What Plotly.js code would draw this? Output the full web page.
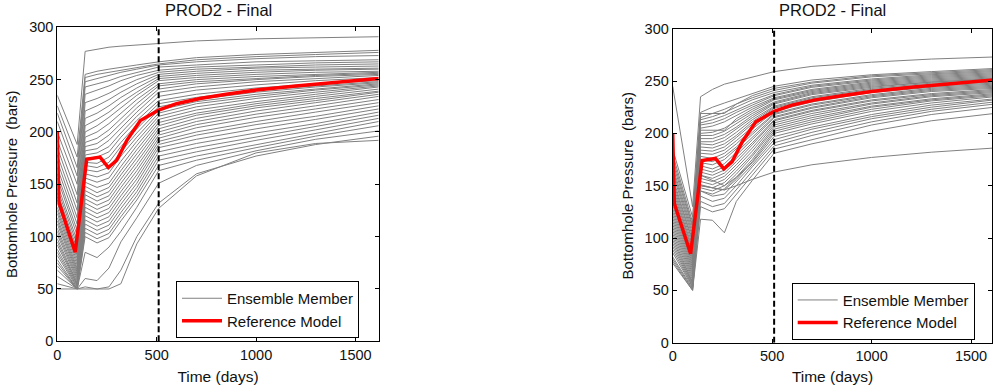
<!DOCTYPE html>
<html><head><meta charset="utf-8">
<script src="https://cdn.plot.ly/plotly-3.0.1.min.js"></script>
<style>html,body{margin:0;padding:0;background:#fff;} #chart{width:994px;height:385px;}</style>
</head><body><div id="chart"></div>
<script>
const panelTitles = ['PROD2 - Final', 'PROD2 - Final'];
const xTitle = 'Time (days)';
const yTitle = 'Bottomhole Pressure \u00a0(bars)';
const legendLabels = ['Ensemble Member', 'Reference Model'];
const xTicks = [0, 500, 1000, 1500];
const yTicks = [0, 50, 100, 150, 200, 250, 300];
const splitDay = 510;
const memberDays = [0, 100, 140, 200, 260, 320, 400, 510, 700, 1000, 1300, 1617];
const referenceDays = [0, 8, 90, 148, 215, 257, 299, 350, 418, 510, 600, 718, 850, 1000, 1200, 1421, 1617];
const referencePressure = [200, 133, 85, 174, 176, 166, 173, 192, 211, 221, 227, 232, 236, 240, 244, 248, 251];

const ensembleLeft = [
  [235, 188, 277, 279, 281, 282, 283, 285, 287, 289, 290, 291],
  [225, 176, 255, 258, 260, 262, 264, 267, 271, 274, 276, 278],
  [218, 166, 252, 255, 257, 259, 262, 265, 269, 272, 274, 276],
  [210, 158, 248, 251, 254, 257, 260, 264, 267, 270, 272, 273],
  [200, 150, 243, 246, 249, 253, 257, 262, 264, 267, 268, 269],
  [192, 140, 236, 240, 244, 249, 254, 259, 262, 264, 266, 267],
  [185, 132, 228, 232, 237, 243, 250, 257, 260, 262, 264, 265],
  [178, 125, 220, 225, 231, 238, 246, 255, 258, 261, 262, 263],
  [172, 118, 213, 218, 225, 233, 242, 253, 256, 259, 260, 261],
  [166, 112, 206, 212, 219, 228, 238, 251, 254, 257, 259, 260],
  [160, 106, 200, 206, 214, 223, 235, 249, 252, 255, 257, 258],
  [156, 101, 195, 200, 208, 218, 231, 246, 250, 253, 255, 257],
  [150, 96, 190, 194, 202, 213, 227, 244, 248, 251, 254, 256],
  [146, 92, 186, 189, 197, 208, 223, 241, 246, 250, 253, 255],
  [142, 88, 182, 184, 192, 204, 219, 238, 243, 248, 251, 254],
  [138, 85, 178, 180, 186, 199, 215, 234, 240, 245, 249, 252],
  [135, 82, 175, 176, 181, 195, 211, 230, 236, 242, 246, 249],
  [132, 79, 171, 170, 176, 190, 207, 227, 233, 240, 244, 248],
  [128, 76, 168, 166, 171, 186, 203, 224, 231, 238, 243, 247],
  [125, 73, 164, 162, 166, 181, 199, 221, 229, 236, 241, 246],
  [122, 70, 160, 157, 161, 177, 195, 218, 227, 234, 240, 245],
  [118, 68, 156, 152, 156, 172, 191, 215, 224, 232, 238, 244],
  [115, 66, 152, 147, 151, 167, 187, 212, 221, 229, 236, 243],
  [112, 64, 148, 142, 147, 163, 183, 209, 218, 227, 234, 241],
  [108, 62, 144, 138, 143, 159, 179, 206, 216, 225, 232, 239],
  [105, 60, 140, 134, 139, 155, 175, 203, 213, 223, 230, 238],
  [102, 58, 136, 130, 135, 151, 171, 200, 210, 220, 228, 236],
  [98, 56, 132, 126, 131, 147, 167, 197, 207, 217, 225, 234],
  [95, 55, 128, 122, 127, 143, 163, 194, 204, 214, 222, 231],
  [92, 54, 124, 118, 123, 139, 159, 191, 200, 210, 219, 228],
  [88, 53, 120, 114, 119, 135, 155, 188, 197, 207, 215, 225],
  [85, 52, 116, 110, 115, 131, 151, 185, 193, 203, 212, 222],
  [82, 51, 112, 106, 111, 127, 147, 181, 189, 199, 208, 219],
  [78, 50, 108, 102, 107, 123, 143, 177, 185, 195, 205, 216],
  [75, 50, 104, 98, 103, 119, 139, 173, 181, 192, 202, 213],
  [72, 50, 100, 94, 99, 115, 135, 168, 177, 188, 199, 210],
  [68, 50, 85, 80, 90, 105, 128, 163, 173, 185, 196, 206],
  [62, 50, 60, 58, 70, 95, 118, 151, 168, 182, 193, 201],
  [55, 50, 52, 50, 52, 68, 100, 132, 160, 177, 188, 196],
  [50, 50, 50, 50, 50, 55, 93, 127, 158, 180, 189, 192]
];

const ensembleRight = [
  [245, 130, 235, 242, 247, 250, 254, 259, 264, 268, 271, 273],
  [185, 120, 220, 225, 229, 233, 238, 245, 251, 256, 259, 262],
  [180, 115, 219, 219, 219, 228, 236, 243, 249, 255, 258, 261],
  [176, 112, 215, 219, 223, 228, 234, 241, 248, 254, 257, 260],
  [172, 110, 213, 216, 220, 225, 232, 239, 246, 252, 256, 259],
  [168, 107, 210, 213, 217, 222, 229, 237, 245, 251, 255, 258],
  [165, 104, 208, 210, 214, 220, 227, 236, 244, 250, 254, 257],
  [162, 101, 205, 207, 211, 217, 225, 234, 242, 249, 253, 256],
  [158, 98, 203, 203, 203, 214, 223, 233, 241, 248, 252, 255],
  [155, 96, 200, 201, 205, 212, 221, 232, 240, 247, 251, 254],
  [152, 93, 198, 198, 202, 209, 219, 230, 239, 246, 250, 253],
  [149, 90, 195, 195, 199, 206, 217, 229, 238, 245, 249, 252],
  [146, 88, 192, 192, 196, 204, 215, 228, 237, 244, 249, 252],
  [143, 86, 190, 189, 193, 201, 213, 226, 235, 243, 248, 251],
  [140, 84, 187, 186, 190, 198, 211, 225, 234, 242, 247, 250],
  [137, 82, 184, 183, 187, 196, 209, 224, 233, 241, 246, 249],
  [134, 80, 181, 180, 184, 193, 206, 222, 231, 240, 245, 248],
  [131, 78, 178, 176, 181, 190, 204, 221, 230, 239, 244, 247],
  [128, 76, 175, 173, 178, 187, 201, 219, 228, 237, 243, 246],
  [125, 74, 172, 170, 175, 185, 199, 218, 227, 236, 242, 245],
  [122, 72, 169, 166, 171, 182, 196, 216, 225, 235, 241, 244],
  [119, 70, 166, 163, 168, 179, 194, 215, 224, 234, 240, 243],
  [116, 68, 163, 160, 165, 176, 191, 213, 222, 232, 238, 242],
  [113, 66, 160, 157, 162, 173, 189, 212, 221, 231, 237, 241],
  [110, 64, 157, 154, 159, 170, 186, 210, 219, 229, 236, 240],
  [107, 62, 154, 151, 156, 167, 183, 208, 217, 228, 235, 239],
  [104, 60, 151, 148, 153, 164, 180, 206, 215, 226, 233, 238],
  [101, 58, 148, 145, 150, 161, 178, 204, 213, 225, 232, 237],
  [98, 57, 145, 142, 147, 158, 175, 202, 211, 223, 231, 236],
  [95, 56, 150, 148, 146, 156, 173, 200, 209, 221, 229, 235],
  [92, 55, 160, 155, 150, 158, 172, 197, 206, 218, 227, 233],
  [89, 54, 145, 140, 142, 154, 170, 194, 204, 216, 225, 232],
  [86, 53, 140, 135, 138, 150, 168, 191, 201, 214, 223, 230],
  [82, 52, 135, 130, 133, 146, 164, 188, 198, 211, 221, 228],
  [80, 51, 130, 125, 128, 142, 160, 185, 194, 208, 218, 225],
  [78, 50, 118, 117, 105, 135, 155, 181, 190, 202, 212, 219],
  [76, 50, 150, 148, 146, 150, 156, 163, 170, 177, 182, 186]
];

const GRAY = '#808080';
const RED = '#ff0000';
const FONT = 'Liberation Sans, Arial, sans-serif';
const TXT = '#111';

function panelTraces(members, xa, ya, legendId) {
  const traces = [];
  members.forEach((vals, i) => {
    traces.push({
      x: memberDays, y: vals, xaxis: xa, yaxis: ya, type: 'scatter', mode: 'lines',
      line: {color: GRAY, width: 1}, name: legendLabels[0], legend: legendId,
      legendgroup: legendId + 'ens', showlegend: i === 0, hoverinfo: 'skip'
    });
  });
  traces.push({
    x: referenceDays, y: referencePressure, xaxis: xa, yaxis: ya, type: 'scatter', mode: 'lines',
    line: {color: RED, width: 3.5}, name: legendLabels[1], legend: legendId, showlegend: true, hoverinfo: 'skip'
  });
  traces.push({
    x: [splitDay, splitDay], y: [yTicks[0], yTicks[yTicks.length - 1]], xaxis: xa, yaxis: ya,
    type: 'scatter', mode: 'lines', line: {color: '#000', width: 2, dash: '6px,3px'},
    showlegend: false, hoverinfo: 'skip'
  });
  return traces;
}

const data = panelTraces(ensembleLeft, 'x', 'y', 'legend').concat(panelTraces(ensembleRight, 'x2', 'y2', 'legend2'));

function xAxis(domain, range, anchor) {
  return {
    domain: domain, range: range, anchor: anchor, tickvals: xTicks, ticks: 'inside', ticklen: 4,
    tickcolor: '#000', showline: true, linecolor: '#000', linewidth: 1, mirror: 'ticks',
    showgrid: false, zeroline: false, tickfont: {family: FONT, size: 14.5, color: TXT},
    title: {text: xTitle, font: {family: FONT, size: 15.5, color: TXT}, standoff: 9}
  };
}
function yAxis(domain, anchor) {
  return {
    domain: domain, range: [0, 300], anchor: anchor, tickvals: yTicks, ticks: 'inside', ticklen: 4,
    tickcolor: '#000', showline: true, linecolor: '#000', linewidth: 1, mirror: 'ticks',
    showgrid: false, zeroline: false, tickfont: {family: FONT, size: 14.5, color: TXT},
    title: {text: yTitle, font: {family: FONT, size: 15, color: TXT}, standoff: 7}
  };
}
const legendStyle = {
  bgcolor: '#fff', bordercolor: '#000', borderwidth: 1, font: {family: FONT, size: 15, color: TXT},
  xanchor: 'left', yanchor: 'top', tracegroupgap: 0, itemwidth: 40, traceorder: 'normal'
};

const xdL = [57.3 / 994, 378.7 / 994];
const xdR = [672.7 / 994, 992.3 / 994];
const layout = {
  width: 994, height: 385, margin: {l: 0, r: 0, t: 0, b: 0}, paper_bgcolor: '#fff', plot_bgcolor: '#fff',
  showlegend: true,
  xaxis: xAxis(xdL, [0, 1617], 'y'),
  yaxis: yAxis([1 - 341.3 / 385, 1 - 27.3 / 385], 'x'),
  xaxis2: xAxis(xdR, [0, 1607], 'y2'),
  yaxis2: yAxis([1 - 342.7 / 385, 1 - 28.7 / 385], 'x2'),
  legend: Object.assign({}, legendStyle, {x: 176 / 994, y: 1 - 281 / 385}),
  legend2: Object.assign({}, legendStyle, {x: 791.7 / 994, y: 1 - 282.7 / 385}),
  annotations: [
    {text: panelTitles[0], xref: 'paper', yref: 'paper', x: (xdL[0] + xdL[1]) / 2, y: 1 - 10 / 385,
     xanchor: 'center', yanchor: 'middle', showarrow: false, font: {family: FONT, size: 16.5, color: TXT}},
    {text: panelTitles[1], xref: 'paper', yref: 'paper', x: (xdR[0] + xdR[1]) / 2, y: 1 - 10 / 385,
     xanchor: 'center', yanchor: 'middle', showarrow: false, font: {family: FONT, size: 16.5, color: TXT}}
  ]
};

Plotly.newPlot('chart', data, layout, {staticPlot: true, displayModeBar: false});
</script>
</body></html>
